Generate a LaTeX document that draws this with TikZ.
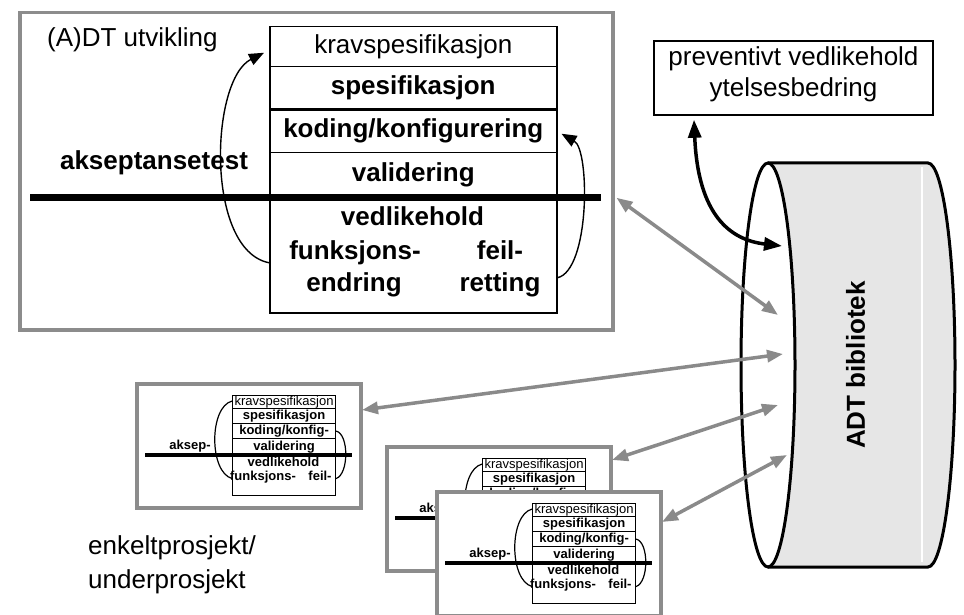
\documentclass[tikz,border=0pt]{standalone}
\usepackage{fontspec}
\setmainfont{Liberation Sans}
\usetikzlibrary{arrows.meta}

\definecolor{framegray}{RGB}{140,140,140}
\definecolor{linkgray}{RGB}{138,138,138}
\definecolor{barrelfill}{RGB}{230,230,230}

\tikzset{
  labelreg/.style={font=\fontsize{26}{31}\selectfont, inner sep=0pt, text height=19pt, text depth=5.5pt},
  labelbold/.style={font=\fontsize{26}{31}\selectfont\bfseries, inner sep=0pt, text height=19pt, text depth=5.5pt},
  smallreg/.style={font=\fontsize{13}{15}\selectfont, inner sep=0pt, text height=9.5pt, text depth=2.75pt},
  smallbold/.style={font=\fontsize{13}{15}\selectfont\bfseries, inner sep=0pt, text height=9.5pt, text depth=2.75pt},
  bigframe/.style={draw=framegray, line width=3.5pt, inner sep=0pt, anchor=north west},
  cardframe/.style={draw=framegray, fill=white, line width=3.5pt, inner sep=0pt, anchor=north west,
                    minimum width=224pt, minimum height=124pt},
  stackrow/.style={draw, line width=1.5pt, inner sep=0pt, anchor=north west, minimum width=287pt},
  cardrow/.style={draw, line width=1.1pt, inner sep=0pt, anchor=north west, minimum width=103pt},
  looparrow/.style={line width=1.4pt, -{Triangle[length=15pt,width=12pt]}},
  cardloop/.style={line width=1.2pt},
  linkarrow/.style={draw=linkgray, line width=3.5pt,
                    {Triangle[length=16pt,width=12pt]}-{Triangle[length=16pt,width=12pt]}},
  blackarrow/.style={line width=3.5pt,
                    {Triangle[length=18pt,width=13pt]}-{Triangle[length=18pt,width=13pt]}},
  barrel/.style={line width=3pt},
}

% one small project card: #1,#2 = top-left corner, #3 = name prefix, #4 = height of its port
\newcommand{\projcard}[4]{%
\begin{scope}[shift={(#1,#2)}]
  \node[cardframe] (#3) at (0,0) {};
  \node[cardrow, minimum height=13pt, smallreg] (#3-k) at (97,13) {kravspesifikasjon};
  \node[cardrow, minimum height=15pt, smallbold] (#3-s) at (97,26) {spesifikasjon};
  \node[cardrow, minimum height=15pt, smallbold] (#3-c) at (97,41) {koding/konfig-};
  \node[cardrow, minimum height=17pt, smallbold] (#3-v) at (97,56) {validering};
  \node[cardrow, minimum height=40pt] (#3-low) at (97,73) {};
  \draw[line width=3.5pt] (10,73) -- (217,73);
  \node[smallbold] (#3-ved) at (148.5,81) {vedlikehold};
  \node[smallbold] (#3-fu) at (128,95) {funksjons-};
  \node[smallbold] (#3-fe) at (185,95) {feil-};
  \node[smallbold] (#3-ak) at (55,64) {aksep-};
  \draw[cardloop] ([yshift=1pt]#3-k.west) .. controls (74,25) and (74,90) .. ([yshift=-3pt]#3-low.west);
  \draw[cardloop] (#3-c.east) .. controls (214,52) and (214,92) .. ([yshift=-3pt]#3-low.east);
  \coordinate (#3-port) at (227,#4);
\end{scope}}

\begin{document}
\begin{tikzpicture}[x=1pt,y=-1pt]
\useasboundingbox (0,0) rectangle (964,615);

% ---------- development frame ----------
\node[bigframe, minimum width=593pt, minimum height=317pt] (main) at (18,11) {};
\node[labelreg, anchor=west] (title) at (47,40) {(A)DT utvikling};

\node[stackrow, minimum height=40pt, labelreg] (krav) at (269,26) {kravspesifikasjon};
\node[stackrow, minimum height=42pt, labelbold] (spes) at (269,66) {spesifikasjon};
\node[stackrow, minimum height=44pt, labelbold] (kod) at (269,108) {koding/konfigurering};
\node[stackrow, minimum height=45pt, labelbold] (val) at (269,152) {validering};
\node[stackrow, minimum height=115pt] (low) at (269,197) {};
\draw[line width=2.5pt] (spes.south west) -- (spes.south east);

\node[labelbold] (ved) at (412.5,219) {vedlikehold};
\node[labelbold] (funk) at (355,253) {funksjons-};
\node[labelbold] (feil) at (500,253) {feil-};
\node[labelbold] (endr) at (354,285) {endring};
\node[labelbold] (rett) at (500,285) {retting};
\node[labelbold] (aks) at (154,163) {akseptansetest};

\draw[line width=7pt] (30,197) -- (601,197);

\draw[looparrow] ([yshift=-7.5pt]low.west) .. controls (205,250) and (210,80) .. ([xshift=-5pt,yshift=-6pt]krav.west);
\draw[looparrow] ([yshift=-22.5pt]low.east) .. controls (590,270) and (590,150) .. ([xshift=4pt,yshift=-3pt]kod.east);

% ---------- preventive maintenance box ----------
\node[draw, line width=1.5pt, inner sep=0pt, minimum width=279pt, minimum height=74pt] (prev) at (793.5,78) {};
\node[labelreg] (prev1) at (793.5,59) {preventivt vedlikehold};
\node[labelreg] (prev2) at (793.5,90) {ytelsesbedring};

% ---------- library barrel ----------
\fill[barrelfill] (768,163) -- (928,163) arc[start angle=-90,end angle=90,x radius=27,y radius=202]
   -- (768,567) arc[start angle=90,end angle=-90,x radius=27,y radius=202] -- cycle;
\draw[white, line width=1.5pt] (922,167) -- (922,562);
\draw[barrel] (768,365) ellipse [x radius=27, y radius=202];
\draw[barrel] (768,163) -- (928,163) arc[start angle=-90,end angle=90,x radius=27,y radius=202] -- (768,567);
\node[labelbold, rotate=90] (lib) at (858,365) {ADT bibliotek};

\coordinate (c0) at (782,246);
\coordinate (c1) at (778,315);
\coordinate (c2) at (783,354);
\coordinate (c3) at (778,405);
\coordinate (c4) at (787,455);

% ---------- project cards ----------
\projcard{135}{382}{p1}{28}
\projcard{385}{445}{p2}{15}
\projcard{435}{490}{p3}{32}

\node[labelreg, anchor=west] (enk1) at (88,548) {enkeltprosjekt/};
\node[labelreg, anchor=west] (enk2) at (88,582) {underprosjekt};

% ---------- connections ----------
\draw[blackarrow] ([xshift=-99.5pt,yshift=-4pt]prev.south) .. controls (698,215) and (730,240) .. (c0);
\draw[linkarrow] ([xshift=2pt,yshift=-26.5pt]main.east) -- (c1);
\draw[linkarrow] (p1-port) -- (c2);
\draw[linkarrow] (p2-port) -- (c3);
\draw[linkarrow] (p3-port) -- (c4);

\end{tikzpicture}
\end{document}
